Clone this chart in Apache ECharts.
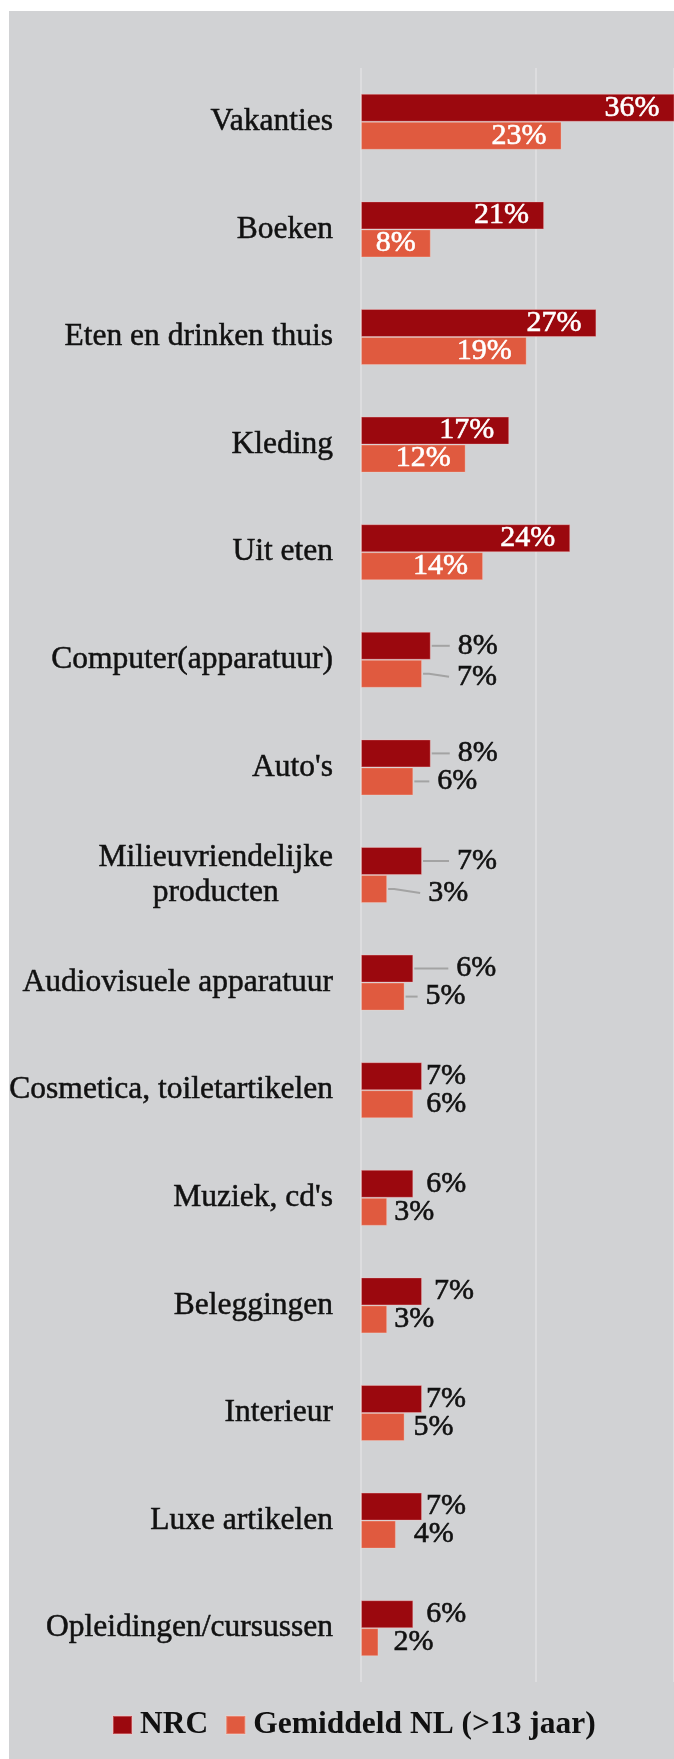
<!DOCTYPE html>
<html>
<head>
<meta charset="utf-8">
<script src="https://cdn.jsdelivr.net/npm/echarts@6/dist/echarts.min.js"></script>
<style>
html,body{margin:0;padding:0;background:#ffffff;}
#chart{width:674px;height:1759px;}
</style>
</head>
<body>
<div id="chart"></div>
<script>
// ---- data ----
const categories = [
  'Vakanties',
  'Boeken',
  'Eten en drinken thuis',
  'Kleding',
  'Uit eten',
  'Computer(apparatuur)',
  "Auto's",
  'Milieuvriendelijke\nproducten',
  'Audiovisuele apparatuur',
  'Cosmetica, toiletartikelen',
  "Muziek, cd's",
  'Beleggingen',
  'Interieur',
  'Luxe artikelen',
  'Opleidingen/cursussen'
];
const seriesNames = ['NRC', 'Gemiddeld NL (>13 jaar)'];
const nrcValues = [36, 21, 27, 17, 24, 8, 8, 7, 6, 7, 6, 7, 7, 7, 6];
const gemValues = [23, 8, 19, 12, 14, 7, 6, 3, 5, 6, 3, 3, 5, 4, 2];
const xTicks = [0, 20];
const xMax = 35.9;   // visible end of the value axis (the panel is cut at the right edge)

// ---- styles (not data) ----
const COLORS = ['#9b080e', '#e05a3f'];
const BAR_W = 28;
const insideRowCount = 5;            // first rows carry value labels inside the bar
const leaderRows = [5, 6, 7, 8];     // rows whose labels are pushed out with a guide line
const labelGap = [                   // gap (px) between bar end and outside label text
  [0, 0, 0, 0, 0, 27, 27, 35, 43, 4, 13, 12, 4, 4, 13],
  [0, 0, 0, 0, 0, 35, 24, 41, 21, 13, 7, 7, 9, 18, 15]
];
const labelDy = [
  [0, 0, 0, 0, 0, 0, 0, 0, 0, 0, 0, 0, 0, 0, 0],
  [0, 0, 0, 0, 0, 3, 0, 4, 0, 0, 0, 0, 0, 0, 0]
];
const LEADER_PAD = 8;
const SERIF = '"Liberation Serif", "Times New Roman", serif';
const INK = '#111111';

function buildItems(values, s) {
  return values.map(function (v, i) {
    const item = { value: v };
    if (i < insideRowCount) {
      item.label = {
        position: 'insideRight', distance: 15, color: '#ffffff',
        textBorderColor: '#ffffff', textBorderWidth: 0.6
      };
    } else {
      item.label = {
        position: 'right',
        color: INK,
        textBorderColor: INK,
        textBorderWidth: 0.6,
        distance: labelGap[s][i],
        offset: [0, labelDy[s][i]]
      };
    }
    return item;
  });
}

// leader line records: [value, categoryIndex, seriesIndex, gap, dy]
const leaderData = [];
leaderRows.forEach(function (i) {
  leaderData.push([nrcValues[i], i, 0, labelGap[0][i], labelDy[0][i]]);
  leaderData.push([gemValues[i], i, 1, labelGap[1][i], labelDy[1][i]]);
});

function renderLeader(params, api) {
  const v = api.value(0), cat = api.value(1), s = api.value(2);
  const gap = api.value(3), dy = api.value(4);
  const p = api.coord([v, cat]);
  const y = p[1] + (s === 0 ? -BAR_W / 2 : BAR_W / 2);
  const x1 = p[0] + 1;
  const x2 = p[0] + gap - LEADER_PAD;
  return {
    type: 'polyline',
    shape: { points: [[x1, y], [x1 + 6, y], [x2, y + dy]] },
    style: { stroke: '#a3a3a3', lineWidth: 2, fill: null }
  };
}

const chart = echarts.init(document.getElementById('chart'), null, { renderer: 'canvas' });

const catTextStyle = {
  fontFamily: SERIF, fontSize: 31.5, color: INK, lineHeight: 35,
  textBorderColor: INK, textBorderWidth: 0.5
};

const option = {
  animation: false,
  backgroundColor: '#ffffff',
  graphic: [{
    type: 'rect',
    silent: true,
    z: -10,
    shape: { x: 9, y: 11, width: 665, height: 1748 },
    style: { fill: '#d1d2d4' }
  }],
  grid: { left: 361, top: 68, right: 0, bottom: 77, containLabel: false },
  legend: {
    data: seriesNames,
    left: 112,
    top: 1709,
    padding: 0,
    icon: 'rect',
    itemWidth: 19,
    itemHeight: 18,
    itemGap: 17,
    textStyle: {
      fontFamily: SERIF,
      fontWeight: 'bold',
      fontSize: 31.5,
      lineHeight: 30,
      color: INK,
      padding: [0, 0, 0, 3]
    }
  },
  xAxis: {
    type: 'value',
    min: xTicks[0],
    max: xMax,
    interval: xTicks[1] - xTicks[0],
    axisLabel: { show: false },
    axisLine: { show: false },
    axisTick: { show: false },
    splitLine: { show: true, lineStyle: { color: '#e0e1e3', width: 1.5 } }
  },
  yAxis: {
    type: 'category',
    inverse: true,
    data: categories,
    axisLine: { show: false },
    axisTick: { show: false },
    axisLabel: Object.assign({
      interval: 0,
      margin: 28,
      formatter: function (v) {
        if (v.indexOf('\n') >= 0) {
          const parts = v.split('\n');
          return '{a|' + parts[0] + '}\n{c|' + parts[1] + '}';
        }
        return v;
      },
      rich: {
        a: Object.assign({ align: 'right' }, catTextStyle),
        c: Object.assign({ align: 'center' }, catTextStyle)
      }
    }, catTextStyle)
  },
  series: [
    {
      name: seriesNames[0],
      type: 'bar',
      barWidth: BAR_W,
      barGap: '0%',
      itemStyle: { color: COLORS[0], borderColor: 'rgba(255,200,200,0.35)', borderWidth: 1 },
      label: { show: true, formatter: '{c}%', fontFamily: SERIF, fontSize: 30 },
      data: buildItems(nrcValues, 0)
    },
    {
      name: seriesNames[1],
      type: 'bar',
      barWidth: BAR_W,
      barGap: '0%',
      itemStyle: { color: COLORS[1], borderColor: 'rgba(255,220,210,0.3)', borderWidth: 1 },
      label: { show: true, formatter: '{c}%', fontFamily: SERIF, fontSize: 30 },
      data: buildItems(gemValues, 1)
    },
    {
      name: 'leaders',
      type: 'custom',
      silent: true,
      renderItem: renderLeader,
      encode: { x: 0, y: 1 },
      z: 1,
      data: leaderData
    }
  ]
};
chart.setOption(option);
</script>
</body>
</html>
